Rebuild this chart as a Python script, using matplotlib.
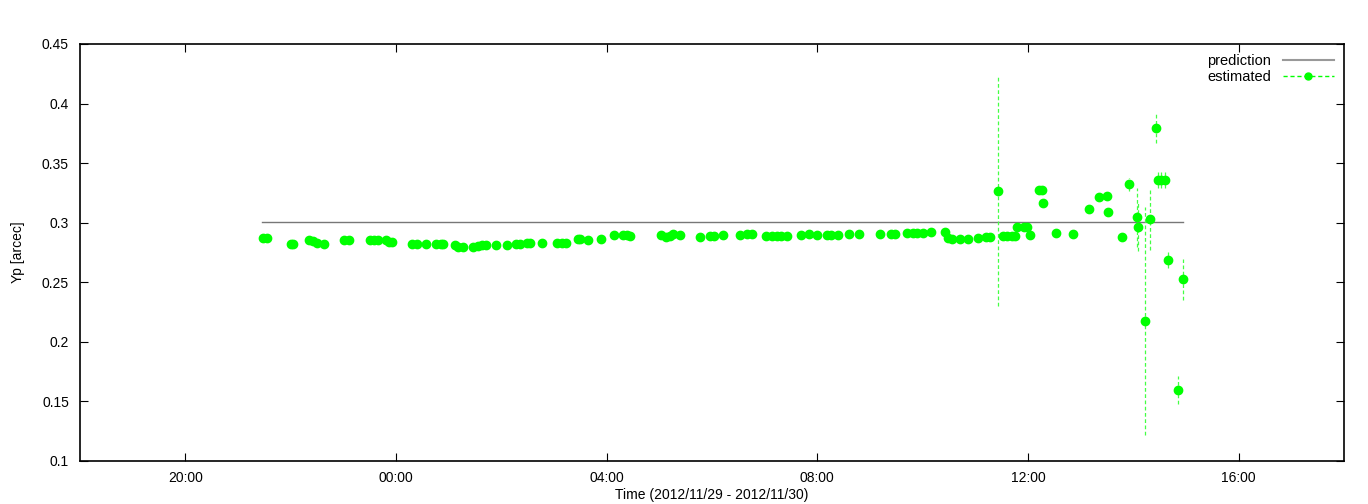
import datetime as dt
import matplotlib
matplotlib.use("Agg")
import matplotlib.pyplot as plt
import matplotlib.dates as mdates
from matplotlib.lines import Line2D

# estimated Yp values (time of day, value, error)
est_times = ["21:28", "21:33", "22:00", "22:03", "22:21", "22:25", "22:30", "22:38",
             "23:01", "23:07", "23:30", "23:35", "23:40", "23:49", "23:52", "23:56",
             "00:18", "00:24", "00:34", "00:46", "00:51", "00:54", "01:07", "01:11",
             "01:16", "01:28", "01:33", "01:38", "01:42", "01:54", "02:07", "02:17",
             "02:21", "02:29", "02:33", "02:46", "03:03", "03:09", "03:14", "03:27",
             "03:30", "03:39", "03:53", "04:08", "04:19", "04:23", "04:27", "05:02",
             "05:08", "05:12", "05:16", "05:23", "05:46", "05:58", "06:02", "06:13",
             "06:32", "06:40", "06:45", "07:02", "07:08", "07:14", "07:19", "07:25",
             "07:41", "07:50", "08:00", "08:11", "08:16", "08:23", "08:36", "08:48",
             "09:11", "09:24", "09:29", "09:42", "09:49", "09:54", "10:00", "10:10",
             "10:25", "10:29", "10:33", "10:43", "10:52", "11:03", "11:12", "11:17",
             "11:26", "11:31", "11:36", "11:42", "11:45", "11:48", "11:55", "11:59",
             "12:02", "12:12", "12:16", "12:17", "12:32", "12:51", "13:09", "13:21",
             "13:30", "13:31", "13:47", "13:55", "14:04", "14:05", "14:13", "14:19",
             "14:26", "14:28", "14:31", "14:36", "14:39", "14:51", "14:57"]
est_vals = [0.2874, 0.2874, 0.2824, 0.2824, 0.2857, 0.2846, 0.2830, 0.2819,
            0.2855, 0.2855, 0.2855, 0.2855, 0.2855, 0.2857, 0.2841, 0.2836,
            0.2824, 0.2824, 0.2824, 0.2821, 0.2821, 0.2821, 0.2813, 0.2794,
            0.2799, 0.2794, 0.2805, 0.2813, 0.2815, 0.2813, 0.2813, 0.2821,
            0.2821, 0.2827, 0.2827, 0.2832, 0.2827, 0.2827, 0.2832, 0.2866,
            0.2866, 0.2857, 0.2863, 0.2897, 0.2897, 0.2897, 0.2886, 0.2897,
            0.2880, 0.2891, 0.2908, 0.2897, 0.2878, 0.2886, 0.2886, 0.2897,
            0.2899, 0.2903, 0.2908, 0.2891, 0.2891, 0.2886, 0.2891, 0.2891,
            0.2897, 0.2908, 0.2897, 0.2897, 0.2897, 0.2897, 0.2903, 0.2903,
            0.2903, 0.2903, 0.2903, 0.2911, 0.2911, 0.2914, 0.2914, 0.2922,
            0.2924, 0.2869, 0.2863, 0.2866, 0.2866, 0.2874, 0.2878, 0.2878,
            0.3268, 0.2891, 0.2888, 0.2888, 0.2888, 0.2967, 0.2967, 0.2967,
            0.2900, 0.3277, 0.3277, 0.3168, 0.2914, 0.2903, 0.3118, 0.3220,
            0.3224, 0.3090, 0.2883, 0.3323, 0.3044, 0.2962, 0.2175, 0.3029,
            0.3793, 0.3358, 0.3358, 0.3358, 0.2687, 0.1596, 0.2525]
est_errs = [0.0015] * 88 + [0.0970] + [0.0015] * 14 + [0.0020, 0.0030, 0.0015,
            0.0015, 0.0056, 0.0250, 0.0200, 0.0960, 0.0260, 0.0120, 0.0066,
            0.0066, 0.0066, 0.0065, 0.0115, 0.0170]

# prediction line
pred_times = ["21:27", "14:57"]
pred_vals = [0.3003, 0.3003]


def to_dt(s):
    h, m = map(int, s.split(":"))
    day = 29 if h >= 18 else 30
    return dt.datetime(2012, 11, day, h, m)


est_t = [to_dt(s) for s in est_times]
pred_t = [to_dt(s) for s in pred_times]

plt.rcParams['font.family'] = ['Liberation Sans', 'DejaVu Sans']
plt.rcParams['font.size'] = 10

fig = plt.figure(figsize=(13.68, 5.04), dpi=100)
ax = fig.add_axes([80 / 1368, 1 - 461 / 504, 1264 / 1368, 417 / 504])

ax.plot(pred_t, pred_vals, color='#777777', lw=1, label='prediction')
eb = ax.errorbar(est_t, est_vals, yerr=est_errs, fmt='o', color='#00ff00',
                 ms=6, mec='#00ff00', ecolor='#44ff44', elinewidth=0.9,
                 capsize=0, label='estimated')
eb[-1][0].set_linestyle((0, (3, 2)))

ax.set_xlim(dt.datetime(2012, 11, 29, 18, 0), dt.datetime(2012, 11, 30, 18, 0))
ax.set_ylim(0.1, 0.45)
ax.set_yticks([0.1, 0.15, 0.2, 0.25, 0.3, 0.35, 0.4, 0.45])
ax.set_yticklabels(['0.1', '0.15', '0.2', '0.25', '0.3', '0.35', '0.4', '0.45'])
ax.xaxis.set_major_locator(mdates.HourLocator(byhour=[0, 4, 8, 12, 16, 20]))
ax.xaxis.set_major_formatter(mdates.DateFormatter('%H:%M'))
ax.tick_params(direction='in', length=6, top=True, right=True)
ax.tick_params(axis='x', pad=7)
ax.tick_params(axis='y', pad=8)

for sp in ax.spines.values():
    sp.set_linewidth(1.2)

ax.set_xlabel('Time (2012/11/29 - 2012/11/30)', labelpad=2)
ax.set_ylabel('Yp [arcec]', labelpad=12)

handles = [Line2D([], [], color='#999999', lw=1.5),
           Line2D([], [], color='#00ff00', ls=(0, (3, 2)), lw=1, marker='o',
                  ms=5, markevery=[1])]
handles[1].set_xdata([0, 0.5, 1])
leg = ax.legend(handles, ['prediction', 'estimated'], loc='upper right',
                frameon=False, markerfirst=False, handlelength=3.5,
                borderaxespad=0.3, labelspacing=0.1, fontsize=10.5)

fig.savefig('out.png', dpi=100)
